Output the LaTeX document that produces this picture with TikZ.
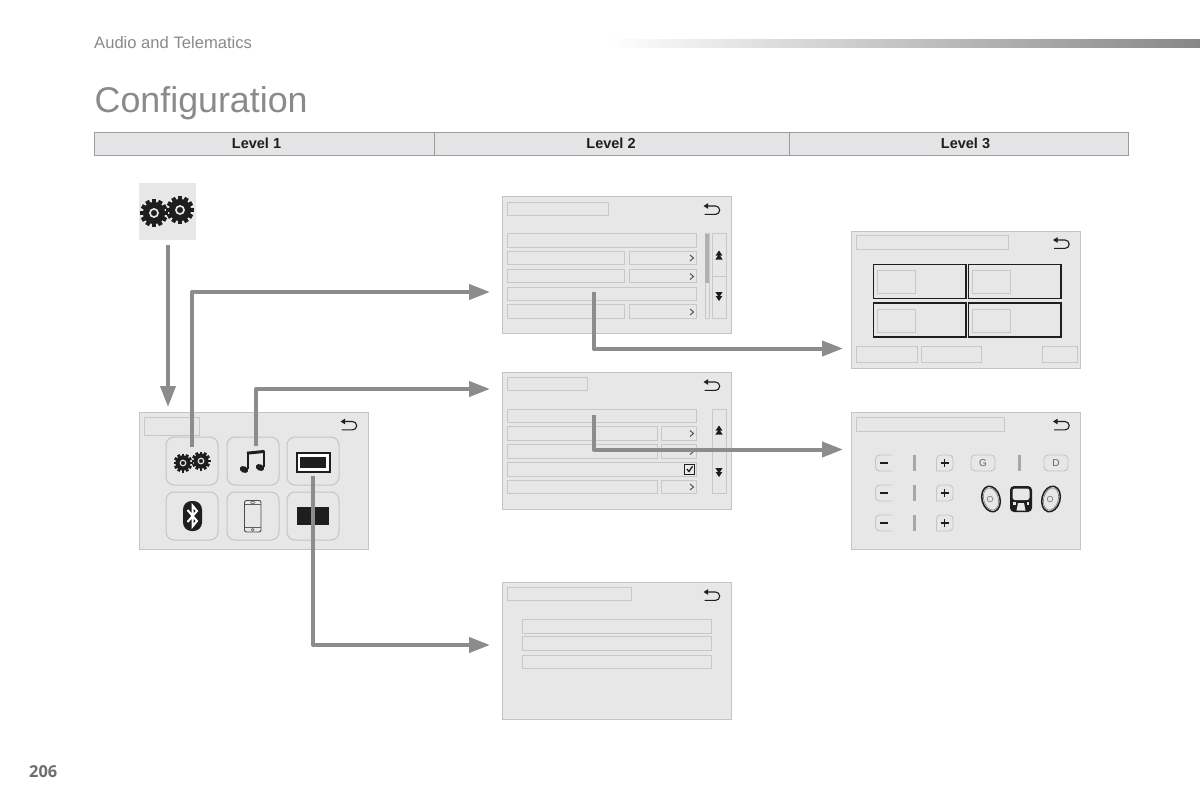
\documentclass[tikz,border=0pt]{standalone}
\usepackage{fontspec}
\setmainfont{Liberation Sans}
\newfontfamily\pagefont{Open Sans}
\usetikzlibrary{arrows.meta}
\definecolor{flowgrey}{HTML}{8C8C8C}
\definecolor{panelfill}{HTML}{E7E7E7}
\definecolor{panelline}{HTML}{C4C4C4}
\definecolor{fieldline}{HTML}{C8C8C8}
\definecolor{headfill}{HTML}{E4E4E6}
\definecolor{headline}{HTML}{9C9C9C}
\definecolor{ink}{HTML}{1E1E1E}
\definecolor{softtext}{HTML}{8A8A8A}
\tikzset{
  panel/.style={draw=panelline,fill=panelfill,line width=0.8pt,minimum width=229pt,minimum height=137pt,inner sep=0pt,outer sep=0pt},
  field/.style={draw=fieldline,fill=panelfill,line width=0.9pt},
  keycap/.style={draw=panelline,fill=panelfill,line width=1pt,rounded corners=8pt,minimum width=52pt,minimum height=48pt,inner sep=0pt,outer sep=0pt},
  flow/.style={draw=flowgrey,line width=4pt,line join=round,-{Triangle[length=21pt,width=15pt,fill=flowgrey]}},
  tile/.style={draw=ink,line width=1.1pt,fill=panelfill},
  smallkey/.style={panelline,fill=panelfill,line width=0.9pt},
  keyglyph/.style={inner sep=0pt,outer sep=0pt,font=\fontsize{10}{10}\selectfont,text=ink!70},
  headcell/.style={draw=headline,fill=headfill,line width=1pt,minimum height=23pt,inner sep=0pt,outer sep=0pt,font=\fontsize{14.5}{14.5}\selectfont\bfseries,text=ink},
}
% field rectangle from corner to corner
\newcommand{\fieldbox}[4]{\draw[field] (#1,#2) rectangle (#3,#4);}
% return arrow centred on a point
\newcommand{\backicon}[2]{%
  \draw[ink,line width=1.1pt] ([shift={(-6,-4)}]#1,#2) -- ([shift={(4,-4)}]#1,#2) arc[start angle=90,end angle=-90,radius=4.2pt] -- ([shift={(-7,4.4)}]#1,#2);
  \fill[ink] ([shift={(-8,-4)}]#1,#2) -- ([shift={(-3.5,-6.8)}]#1,#2) -- ([shift={(-3.5,-1.2)}]#1,#2) -- cycle;}
% cog wheel with a light hub ring
\newcommand{\cogwheel}[3]{%
  \pgfmathsetmacro{\cogbar}{0.3*#3}
  \pgfmathsetmacro{\cogin}{0.55*#3}
  \pgfmathsetmacro{\cogout}{1.0*#3}
  \fill[ink] (#1,#2) circle[radius=0.8*#3 pt];
  \foreach \a in {0,30,...,330}
    \draw[ink,line width=\cogbar pt] ([shift={(\a:\cogin pt)}]#1,#2) -- ([shift={(\a:\cogout pt)}]#1,#2);
  \draw[white!90!black,line width=0.12*#3 pt] (#1,#2) circle[radius=0.29*#3 pt];}
% pair of stacked chevrons on the scroll keys
\newcommand{\scrollup}[2]{%
  \fill[ink] ([shift={(0,-5)}]#1,#2) -- ([shift={(3.4,0)}]#1,#2) -- ([shift={(-3.4,0)}]#1,#2) -- cycle;
  \fill[ink] ([shift={(0,-1.5)}]#1,#2) -- ([shift={(3.6,4)}]#1,#2) -- ([shift={(-3.6,4)}]#1,#2) -- cycle;}
\newcommand{\scrolldown}[2]{%
  \fill[ink] ([shift={(0,5)}]#1,#2) -- ([shift={(3.4,0)}]#1,#2) -- ([shift={(-3.4,0)}]#1,#2) -- cycle;
  \fill[ink] ([shift={(0,1.5)}]#1,#2) -- ([shift={(3.6,-4)}]#1,#2) -- ([shift={(-3.6,-4)}]#1,#2) -- cycle;}
\newcommand{\chev}[2]{\draw[ink!75,line width=1pt] ([shift={(-2,-3)}]#1,#2) -- ([shift={(1.5,0)}]#1,#2) -- ([shift={(-2,3)}]#1,#2);}
\newcommand{\levelbar}[2]{\fill[panelline!85!black] (#1-1.5,#2-8) rectangle (#1+1.5,#2+8);}
\begin{document}
\begin{tikzpicture}[x=1pt,y=-1pt]
\useasboundingbox (0,0) rectangle (1200,800);
\fill[white] (0,0) rectangle (1200,800);

% running head
\shade[left color=white,right color=white!53!black] (605,39.5) rectangle (1200,48);
\node[anchor=base west,inner sep=0pt,text=softtext,font=\fontsize{16.6}{16.6}\selectfont] (running) at (94,48.5) {Audio and Telematics};
\node[anchor=base west,inner sep=0pt,text=softtext,font=\fontsize{35.8}{35.8}\selectfont] (title) at (94.5,113) {Configuration};
\node[anchor=base west,inner sep=0pt,text=ink!65,font=\pagefont\fontsize{16.4}{16.4}\selectfont\bfseries] (pageno) at (29,777) {206};

% column headings
\node[headcell,minimum width=340pt] (lv1) at (264,143.5) {\hspace*{-15pt}Level 1};
\node[headcell,minimum width=355pt] (lv2) at (611.5,143.5) {\hspace*{-1pt}Level 2};
\node[headcell,minimum width=339pt] (lv3) at (958.5,143.5) {\hspace*{14pt}Level 3};

% settings entry point
\fill[panelfill] (139,183) rectangle (196,240);
\node[minimum size=57pt,inner sep=0pt,outer sep=0pt] (entry) at (167.5,211.5) {};
\cogwheel{154}{213}{14}
\cogwheel{180}{210}{14}

% level 1 menu
\node[panel] (menu) at (253.5,480.5) {};
\fieldbox{144}{417}{199}{435}
\backicon{348.5}{425.5}
\node[keycap] (kcog) at (192,461) {};
\node[keycap] (kmusic) at (253,461) {};
\node[keycap] (kscreen) at (313,461) {};
\node[keycap] (kblue) at (192,516) {};
\node[keycap] (kphone) at (253,516) {};
\node[keycap] (kblack) at (313,516) {};
\cogwheel{183}{463}{9.5}
\cogwheel{201}{461}{9.5}
% music note
\fill[ink] (244,469.5) ellipse[x radius=4.4pt,y radius=3.2pt,rotate=-25];
\fill[ink] (260,467.5) ellipse[x radius=4.4pt,y radius=3.2pt,rotate=-25];
\draw[ink,line width=2pt] (247.8,469) -- (247.8,452.5);
\draw[ink,line width=2pt] (263.6,467) -- (263.6,451);
\draw[ink,line width=3pt] (246.9,453.2) -- (264.5,451.4);
% screen symbol
\draw[ink,line width=2pt,fill=white] (297,453) rectangle (329.5,472);
\fill[ink] (300,457) rectangle (326,468);
\fill[ink] (297,507) rectangle (329,525);
% bluetooth symbol
\fill[ink,rounded corners=8.5pt] (183,501) rectangle (202,531);
\draw[white,line width=2pt,line join=miter] (187.5,510) -- (197,521) -- (192.5,526.5) -- (192.5,505.5) -- (197,511) -- (187.5,522);
% phone symbol
\draw[ink!80,line width=0.9pt,rounded corners=2pt] (244.5,500.5) rectangle (261,532);
\draw[ink!70,line width=0.6pt] (244.5,504.5) -- (261,504.5) (244.5,527.5) -- (261,527.5);
\draw[ink!70,line width=0.6pt] (252.7,502.5) ellipse[x radius=2.2pt,y radius=1pt];
\draw[ink!70,line width=0.6pt] (252.7,529.8) circle[radius=1.4pt];

% level 2: first list screen
\node[panel] (listA) at (616.5,265) {};
\fieldbox{507}{202}{608}{215}
\backicon{711.5}{210}
\fieldbox{507}{233.5}{696}{247}
\fieldbox{507}{251}{624.5}{264.5}
\fieldbox{629}{251}{696}{264.5}
\fieldbox{507}{269}{624.5}{282.5}
\fieldbox{629}{269}{696}{282.5}
\fieldbox{507}{287}{696}{300.5}
\fieldbox{507}{304.5}{624.5}{318}
\fieldbox{629}{304.5}{696}{318}
\chev{692}{258}\chev{692}{276.5}\chev{692}{312}
\draw[fieldline,line width=0.9pt,fill=panelfill] (705,233.5) rectangle (709,318);
\fill[panelline!90!black] (705,233.5) rectangle (709,283);
\fieldbox{712}{233.5}{726}{276}
\fieldbox{712}{276}{726}{318}
\scrollup{719}{255.5}
\scrolldown{719}{296}

% level 2: second list screen
\node[panel] (listB) at (616.5,440.5) {};
\fieldbox{507}{377}{587}{390.5}
\backicon{711.5}{386}
\fieldbox{507}{409}{696}{422.5}
\fieldbox{507}{426}{657}{440}
\fieldbox{661}{426}{696}{440}
\fieldbox{507}{444}{657}{458}
\fieldbox{661}{444}{696}{458}
\fieldbox{507}{462}{696}{476}
\fieldbox{507}{480}{657}{493.5}
\fieldbox{661}{480}{696}{493.5}
\chev{692}{433.5}\chev{692}{451.5}\chev{692}{487}
\draw[ink,line width=1pt,fill=white!92!black] (684.5,464.5) rectangle (694.5,474);
\draw[ink,line width=1.3pt] (686.8,469) -- (689,471.5) -- (692.6,466.2);
\fieldbox{712}{409}{726}{493.5}
\scrollup{719}{430.5}
\scrolldown{719}{472}

% level 2: third list screen
\node[panel] (listC) at (616.5,650.5) {};
\fieldbox{507}{587}{631}{600.5}
\backicon{711.5}{596}
\fieldbox{522}{619.5}{711}{633}
\fieldbox{522}{636.5}{711}{650}
\fieldbox{522}{655}{711}{668.5}

% level 3: tile screen
\node[panel] (tiles) at (965.5,299.5) {};
\fieldbox{856.5}{235.5}{1008.5}{249}
\backicon{1061}{244}
\draw[tile] (873.5,264.5) rectangle (966,298.5);
\draw[tile] (968.5,264.5) rectangle (1061,298.5);
\draw[tile] (873.5,303) rectangle (966,337);
\draw[tile] (968.5,303) rectangle (1061,337);
\fieldbox{877.5}{270.5}{915}{293}
\fieldbox{972.5}{270.5}{1010}{293}
\fieldbox{877.5}{309}{915}{332}
\fieldbox{972.5}{309}{1010}{332}
\fieldbox{856.5}{346}{917.5}{362.5}
\fieldbox{921.5}{346}{981.5}{362.5}
\fieldbox{1042}{346}{1077}{362.5}

% level 3: sound settings screen
\node[panel] (sound) at (965.5,480.5) {};
\fieldbox{856.5}{417}{1004}{431}
\backicon{1061}{425.5}
\foreach \y in {463,493,523}{
  \fill[panelfill,rounded corners=4pt] (892,\y-8) -- (875.5,\y-8) -- (875.5,\y+8) -- (892,\y+8) -- cycle;
  \draw[smallkey,draw=panelline,rounded corners=4pt] (892,\y-8) -- (875.5,\y-8) -- (875.5,\y+8) -- (892,\y+8);
  \draw[ink,line width=1.8pt] (880,\y) -- (888,\y);
  \levelbar{914}{\y}
  \fill[panelfill,rounded corners=4pt] (936.5,\y-8) -- (953,\y-8) -- (953,\y+8) -- (936.5,\y+8) -- cycle;
  \draw[smallkey,draw=panelline,rounded corners=4pt] (936.5,\y+8) -- (936.5,\y-8) -- (953,\y-8) -- (953,\y+8) -- (936.5,\y+8);
  \draw[ink,line width=1.8pt] (940.5,\y) -- (948.5,\y) (944.5,\y-4) -- (944.5,\y+4);
}
\draw[smallkey,draw=panelline,rounded corners=4pt] (995,455) -- (971,455) -- (971,471) -- (995,471) -- cycle;
\node[keyglyph] (keyG) at (983,463) {G};
\draw[smallkey,draw=panelline,rounded corners=4pt] (1044,455) -- (1068,455) -- (1068,471) -- (1044,471) -- cycle;
\node[keyglyph] (keyD) at (1056,463) {D};
\levelbar{1019}{463}
% speakers and cabin
\foreach \cx/\tilt in {991/15,1051/-15}{
  \draw[ink,line width=1.5pt,fill=panelfill] (\cx,499) ellipse[x radius=9pt,y radius=13pt,rotate=\tilt];
  \draw[ink!60,line width=0.6pt] (\cx,499) ellipse[x radius=7.3pt,y radius=11.3pt,rotate=\tilt];
  \draw[ink!55,line width=0.7pt] (\cx-1,499) circle[radius=2.8pt];
}
\fill[ink,rounded corners=4pt] (1010,486) rectangle (1032,512);
\fill[panelfill,rounded corners=2.5pt] (1012.5,488.5) rectangle (1029.5,500);
\fill[panelfill] (1018,503) -- (1024,503) -- (1025.5,510.5) -- (1016.5,510.5) -- cycle;
\fill[panelfill] (1013,502) rectangle (1015.5,504.5);
\fill[panelfill] (1026.5,502) rectangle (1029,504.5);

% connector ends
\coordinate (entryOut) at (168,245);
\coordinate (menuIn) at (168,407);
\coordinate (cogOut) at (192,447);
\coordinate (listAIn) at (490,292);
\coordinate (musicOut) at (256,446);
\coordinate (listBIn) at (490,389);
\coordinate (screenOut) at (313,476);
\coordinate (listCIn) at (490,645);
\coordinate (listAOut) at (593.5,292);
\coordinate (tilesIn) at (843,348.5);
\coordinate (listBOut) at (594,415);
\coordinate (soundIn) at (843,449.5);

% navigation arrows
\draw[flow] (entryOut) -- (menuIn);
\draw[flow] (cogOut) |- (listAIn);
\draw[flow] (musicOut) |- (listBIn);
\draw[flow] (screenOut) |- (listCIn);
\draw[flow] (listAOut) |- (tilesIn);
\draw[flow] (listBOut) |- (soundIn);
\end{tikzpicture}
\end{document}
